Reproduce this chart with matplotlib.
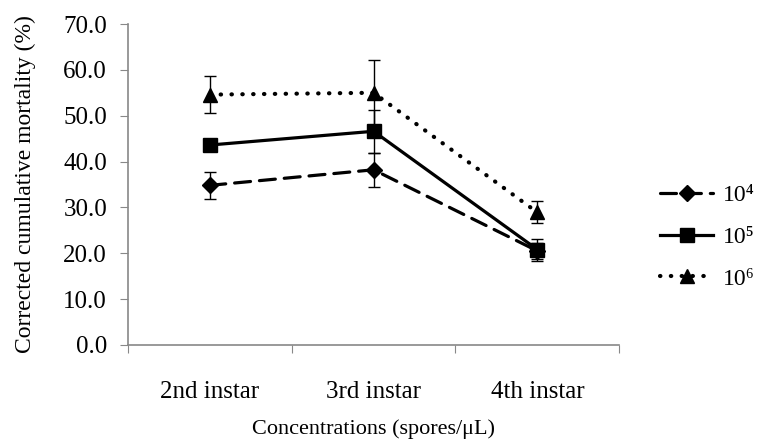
import numpy as np
import matplotlib.pyplot as plt

plt.rcParams['font.family'] = ['Liberation Serif', 'DejaVu Serif']

instars = ['2nd instar', '3rd instar', '4th instar']
conc_labels = ['10\u2074', '10\u2075', '10\u2076']

m_1e4 = [34.8, 38.2, 20.5]
e_1e4 = [2.9, 3.7, 1.8]
m_1e5 = [43.6, 46.6, 20.8]
e_1e5 = [1.0, 4.7, 2.4]
m_1e6 = [54.6, 55.0, 28.9]
e_1e6 = [4.1, 7.2, 2.4]

fig = plt.figure(figsize=(7.57, 4.45), dpi=100)
ax = fig.add_axes([0.169, 0.225, 0.649, 0.721])

x = np.arange(len(instars)) + 0.5
styles = [
    (m_1e4, e_1e4, 'D', (0, (5, 2.8)), 8, 2.3),
    (m_1e5, e_1e5, 's', '-', 10, 2.3),
    (m_1e6, e_1e6, '^', (0, (0.1, 2.5)), 10, 3.0),
]
handles = []
for (m, e, mk, ls, ms, lw), lab in zip(styles, conc_labels):
    ax.errorbar(x, m, yerr=e, fmt='none', ecolor='black', elinewidth=1,
                capsize=4, capthick=1, zorder=2)
    h, = ax.plot(x, m, color='black', marker=mk, markersize=ms, linestyle=ls,
                 linewidth=lw, dash_capstyle='round', label=lab, zorder=3)
    handles.append(h)

ax.set_xlim(0, 3)
ax.set_ylim(0, 70)
ax.set_yticks(np.arange(0, 71, 10))
ax.set_yticklabels([f'{v:.1f}' for v in np.arange(0, 71, 10)])
ax.set_xticks([0, 1, 2, 3])
ax.set_xticklabels([])
ax.set_xticks(x, minor=True)
ax.set_xticklabels(instars, minor=True)
ax.tick_params(axis='x', which='minor', length=0, pad=26, labelsize=18)
ax.tick_params(axis='x', which='major', length=6, color='#888888', direction='out')
ax.tick_params(axis='y', length=6, color='#888888', direction='out', labelsize=18, pad=9)

for s in ['top', 'right']:
    ax.spines[s].set_visible(False)
for s in ['left', 'bottom']:
    ax.spines[s].set_color('#888888')
    ax.spines[s].set_linewidth(1.2)

ax.set_ylabel('Corrected cumulative mortality (%)', fontsize=17, labelpad=20)
ax.set_xlabel('Concentrations (spores/\u03bcL)', fontsize=16, labelpad=12)

ax.legend(handles=handles, loc='center left', bbox_to_anchor=(0.872, 0.467),
          bbox_transform=fig.transFigure, borderaxespad=0, borderpad=0,
          frameon=False, fontsize=17, handlelength=2.25, labelspacing=0.85,
          handletextpad=0.42)

fig.savefig('out.png', dpi=100)
